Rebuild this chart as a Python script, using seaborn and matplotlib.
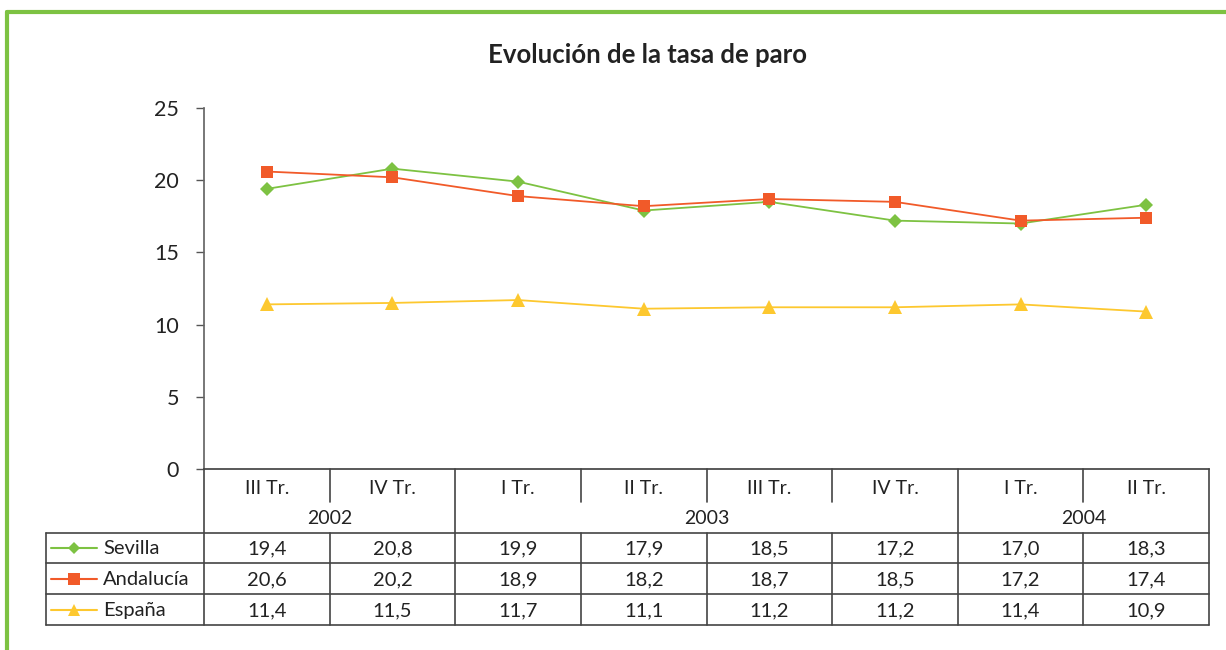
import pandas as pd
import matplotlib.pyplot as plt
import seaborn as sns
from matplotlib.lines import Line2D

quarters = ["III Tr.", "IV Tr.", "I Tr.", "II Tr.", "III Tr.", "IV Tr.", "I Tr.", "II Tr."]
years = ["2002", "2002", "2003", "2003", "2003", "2003", "2004", "2004"]
sevilla = [19.4, 20.8, 19.9, 17.9, 18.5, 17.2, 17.0, 18.3]
andalucia = [20.6, 20.2, 18.9, 18.2, 18.7, 18.5, 17.2, 17.4]
espana = [11.4, 11.5, 11.7, 11.1, 11.2, 11.2, 11.4, 10.9]

series = {"Sevilla": sevilla, "Andalucía": andalucia, "España": espana}
colors = {"Sevilla": "#7dc242", "Andalucía": "#f15a29", "España": "#fdc82f"}
markers = {"Sevilla": "D", "Andalucía": "s", "España": "^"}
msizes = {"Sevilla": 7, "Andalucía": 9, "España": 10}

rows = []
for name, vals in series.items():
    for i, v in enumerate(vals):
        rows.append({"pos": i, "serie": name, "valor": v})
df = pd.DataFrame(rows)

sns.set_theme(style="white")
plt.rcParams["font.family"] = ["Lato", "DejaVu Sans"]

W, H = 1226, 650
fig = plt.figure(figsize=(W / 100, H / 100), dpi=100)

# pixel helpers
def fx(px):
    return px / W

def fy(py):
    return 1 - py / H

x0, x1, y0, y1 = 204, 1209, 108, 469
ax = fig.add_axes([fx(x0), fy(y1), fx(x1) - fx(x0), fy(y0) - fy(y1)])

for name in series:
    sns.lineplot(data=df[df["serie"] == name], x="pos", y="valor", ax=ax,
                 color=colors[name], marker=markers[name], markersize=msizes[name],
                 markeredgewidth=0, linewidth=1.3, legend=False)

ax.set_xlim(-0.5, len(quarters) - 0.5)
ax.set_ylim(0, 25)
ax.set_yticks([0, 5, 10, 15, 20, 25])
ax.set_xticks([])
ax.set_xlabel("")
ax.set_ylabel("")
ax.tick_params(axis="y", direction="out", length=6, width=1, color="#555555",
               labelsize=15.5, pad=12, left=True, labelcolor="#222222")
for s in ["top", "right"]:
    ax.spines[s].set_visible(False)
ax.spines["left"].set_color("#666666")
ax.spines["bottom"].set_color("#444444")

fig.text(fx(648), fy(55), "Evolución de la tasa de paro", ha="center", va="center",
         fontsize=18.5, fontweight="bold", color="#222222")

# green frame
fig.add_artist(Line2D([fx(7), fx(7)], [fy(12), 0], color="#7dc242", lw=3))
fig.add_artist(Line2D([fx(7), 1], [fy(12), fy(12)], color="#7dc242", lw=3))

# data table below the axis
lc = "#444444"
col_w = (x1 - x0) / len(quarters)
edges = [x0 + i * col_w for i in range(len(quarters) + 1)]
r_q = 502
row_lines = [533, 563, 594, 625]
tbl_left = 46

def hline(y, xa, xb):
    fig.add_artist(Line2D([fx(xa), fx(xb)], [fy(y), fy(y)], color=lc, lw=1.2))

def vline(x, ya, yb):
    fig.add_artist(Line2D([fx(x), fx(x)], [fy(ya), fy(yb)], color=lc, lw=1.2))

for y in row_lines:
    hline(y, tbl_left, x1)
vline(tbl_left, row_lines[0], row_lines[-1])
for i, e in enumerate(edges):
    group_edge = i == 0 or i == len(quarters) or years[i] != years[i - 1]
    if group_edge:
        vline(e, y1, row_lines[-1])
    else:
        vline(e, y1, r_q)
        vline(e, row_lines[0], row_lines[-1])

for i, q in enumerate(quarters):
    cx = (edges[i] + edges[i + 1]) / 2
    fig.text(fx(cx), fy(488), q, ha="center", va="center", fontsize=14, color="#222222")

i = 0
while i < len(years):
    j = i
    while j < len(years) and years[j] == years[i]:
        j += 1
    cx = (edges[i] + edges[j]) / 2
    fig.text(fx(cx), fy(519), years[i], ha="center", va="center", fontsize=14, color="#222222")
    i = j

for r, (name, vals) in enumerate(series.items()):
    cy = (row_lines[r] + row_lines[r + 1]) / 2
    fig.add_artist(Line2D([fx(51), fx(97)], [fy(cy), fy(cy)], color=colors[name], lw=1.5))
    fig.add_artist(Line2D([fx(74)], [fy(cy)], color=colors[name], lw=0,
                          marker=markers[name], markersize=msizes[name] - 1, markeredgewidth=0))
    fig.text(fx(103), fy(cy + 1), name, ha="left", va="center", fontsize=14.5, color="#222222")
    for k, v in enumerate(vals):
        cx = (edges[k] + edges[k + 1]) / 2
        fig.text(fx(cx), fy(cy + 1), f"{v:.1f}".replace(".", ","), ha="center", va="center",
                 fontsize=14.5, color="#222222")

fig.savefig("out.png", dpi=100)
